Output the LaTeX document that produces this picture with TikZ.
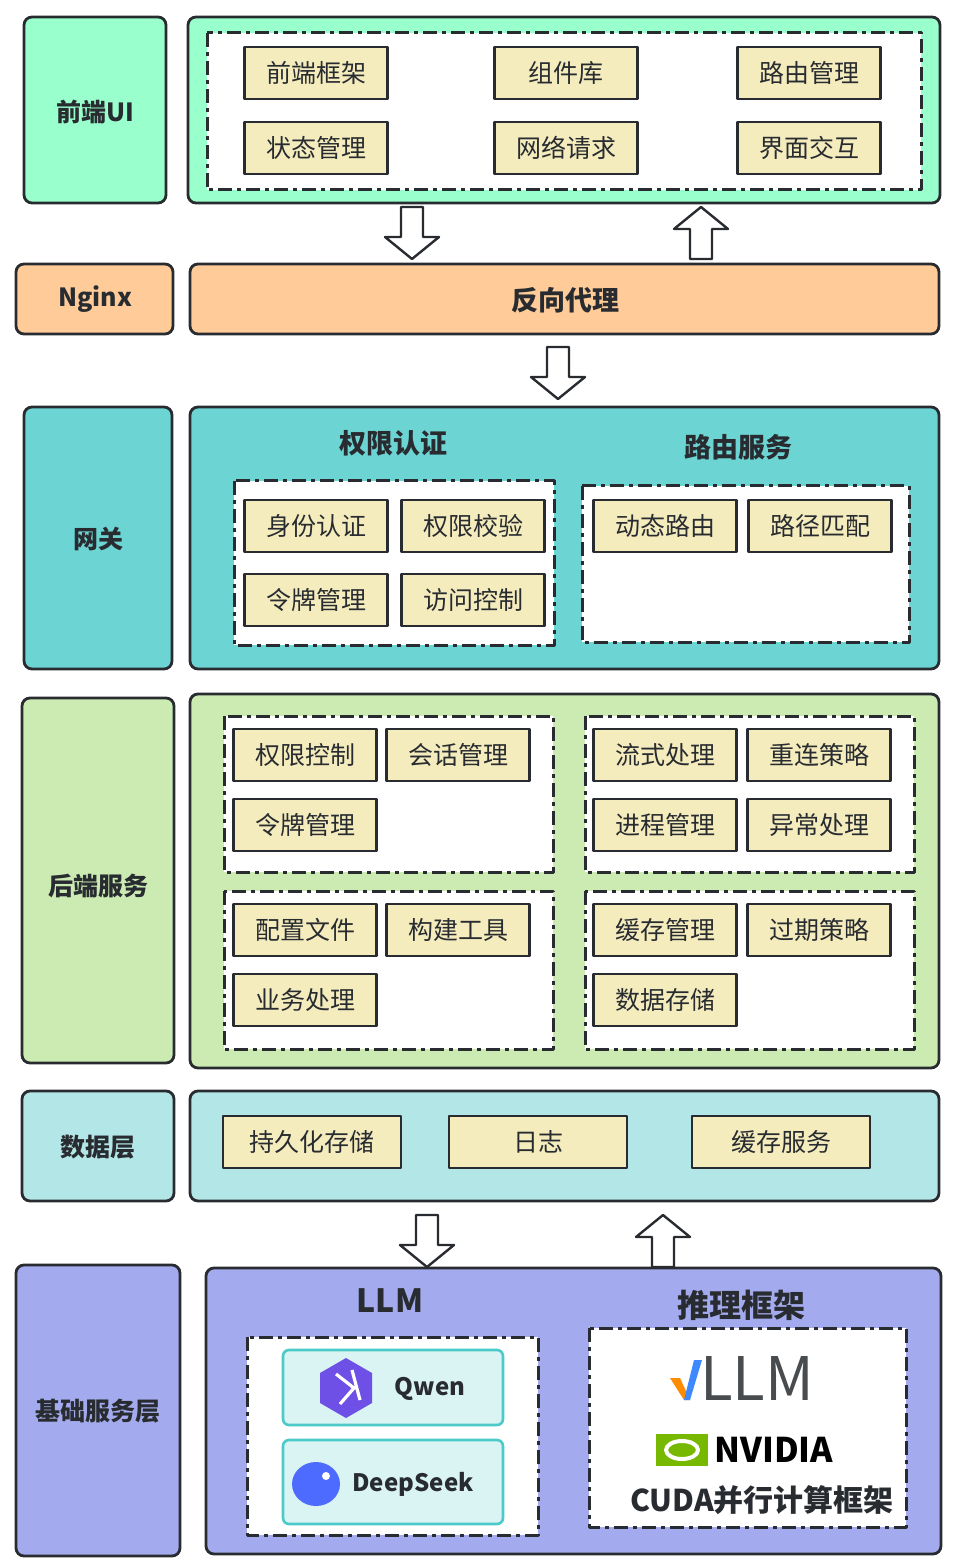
\documentclass[tikz,border=0pt]{standalone}
\usepackage{fontspec}
\setmainfont{Noto Sans CJK SC}
\usetikzlibrary{positioning}
\definecolor{ink}{RGB}{40,44,48}
\definecolor{mint}{RGB}{153,255,204}
\definecolor{peach}{RGB}{255,204,153}
\definecolor{teal}{RGB}{109,212,212}
\definecolor{leaf}{RGB}{204,235,179}
\definecolor{aqua}{RGB}{179,230,230}
\definecolor{lilac}{RGB}{163,171,238}
\definecolor{cream}{RGB}{245,236,190}
\definecolor{pale}{RGB}{218,243,243}
\definecolor{cyanline}{RGB}{76,201,201}
\definecolor{qpurple}{RGB}{110,80,230}
\definecolor{dsblue}{RGB}{77,107,254}
\definecolor{nvgreen}{RGB}{118,185,0}

\newcommand{\hollowarrow}[3]{% x, y (base end), angle
  \draw[hollow, shift={(#1,#2)}, rotate=#3]
    (-11,0) -- (-11,30) -- (-27,30) -- (0,52) -- (27,30) -- (11,30) -- (11,0) -- cycle;}

\begin{document}
\begin{tikzpicture}[
    x=0.5pt, y=-0.5pt,
    line join=round,
    layer/.style={draw=ink, line width=1.4pt, rounded corners=4pt},
    group/.style={draw=ink, fill=white, line width=1.5pt, dash pattern=on 7pt off 2.5pt on 2pt off 2.5pt},
    item/.style={draw=ink, fill=cream, line width=1.4pt, minimum width=71.5pt, minimum height=26pt,
                 inner sep=0pt, text=ink, font=\fontsize{12.5}{14}\selectfont},
    wide/.style={item, minimum width=89pt},
    tag/.style={text=ink, font=\fontsize{12.5}{14}\selectfont\bfseries},
    head/.style={text=ink, font=\fontsize{13.5}{16}\selectfont\bfseries},
    model/.style={draw=cyanline, fill=pale, line width=1.3pt, rounded corners=3pt},
    hollow/.style={draw=ink, fill=white, line width=1.2pt}
    ]
\useasboundingbox (0,0) rectangle (954,1566);

%% Frontend
\draw[layer, fill=mint] (24,17) rectangle (166,203);
\node[tag] (fe) at (95,112) {前端UI};
\draw[layer, fill=mint] (188,17) rectangle (940,203);
\draw[group] (207,33) rectangle (921,190);
\foreach \name/\x/\y/\t in {fw/316/73/前端框架, lib/566/73/组件库, rt/809/73/路由管理,
                           st/316/148/状态管理, net/566/148/网络请求, ui/809/148/界面交互}
  \node[item] (\name) at (\x,\y) {\t};

\hollowarrow{412}{207}{0}
\hollowarrow{701}{259}{180}

%% Nginx
\draw[layer, fill=peach] (16,264) rectangle (173,334);
\node[tag] (ngx) at (95,299) {Nginx};
\draw[layer, fill=peach] (190,264) rectangle (939,334);
\node[head] (proxy) at (565,300) {反向代理};

\hollowarrow{558}{347}{0}

%% Gateway
\draw[layer, fill=teal] (24,407) rectangle (172,669);
\node[tag] (gw) at (98,539) {网关};
\draw[layer, fill=teal] (190,407) rectangle (939,669);
\node[head] (auth) at (393,443) {权限认证};
\node[head] (route) at (738,447) {路由服务};
\draw[group] (234,481) rectangle (554,645);
\draw[group] (582,486) rectangle (909,642);
\foreach \name/\x/\y/\t in {id/316/526/身份认证, perm/473/526/权限校验,
                           tok/316/600/令牌管理, acc/473/600/访问控制,
                           dyn/665/526/动态路由, path/820/526/路径匹配}
  \node[item] (\name) at (\x,\y) {\t};

%% Backend
\draw[layer, fill=leaf] (22,698) rectangle (174,1063);
\node[tag] (be) at (98,886) {后端服务};
\draw[layer, fill=leaf] (190,694) rectangle (939,1068);
\draw[group] (224,716) rectangle (553,872);
\draw[group] (585,716) rectangle (914,872);
\draw[group] (224,891) rectangle (553,1049);
\draw[group] (585,891) rectangle (914,1049);
\foreach \name/\x/\y/\t in {pc/305/755/权限控制, ss/458/755/会话管理, tk/305/825/令牌管理,
                           sp/665/755/流式处理, rc/819/755/重连策略, pm/665/825/进程管理, ex/819/825/异常处理,
                           cf/305/930/配置文件, bt/458/930/构建工具, biz/305/1000/业务处理,
                           cm/665/930/缓存管理, exp/819/930/过期策略, ds/665/1000/数据存储}
  \node[item] (\name) at (\x,\y) {\t};

%% Data
\draw[layer, fill=aqua] (22,1091) rectangle (174,1201);
\node[tag] (data) at (98,1147) {数据层};
\draw[layer, fill=aqua] (190,1091) rectangle (939,1201);
\node[wide] (persist) at (312,1142) {持久化存储};
\node[wide] (log) at (538,1142) {日志};
\node[wide] (cache) at (781,1142) {缓存服务};

\hollowarrow{427}{1215}{0}
\hollowarrow{663}{1267}{180}

%% Base services
\draw[layer, fill=lilac] (16,1265) rectangle (180,1556);
\node[tag] (base) at (98,1411) {基础服务层};
\draw[layer, fill=lilac] (206,1268) rectangle (941,1554);
\node[head, font=\fontsize{16}{18}\selectfont\bfseries] (llm) at (390,1301) {LLM};
\node[head, font=\fontsize{16}{18}\selectfont\bfseries] (infer) at (741,1305) {推理框架};
\draw[group] (247,1337) rectangle (538,1535);
\draw[group] (589,1328) rectangle (906,1527);
\draw[model] (283,1350) rectangle (503,1425);
\draw[model] (283,1440) rectangle (503,1524);
% qwen mark
\fill[qpurple, shift={(346,1388)}] (0,-30) -- (26,-15) -- (26,15) -- (0,30) -- (-26,15) -- (-26,-15) -- cycle;
\draw[white, line width=1.6pt, shift={(346,1388)}] (-10,-14) -- (8,0) -- (-6,16) (6,-18) -- (14,12);
\node[text=ink, font=\fontsize{12}{14}\selectfont\bfseries] (qwen) at (430,1389) {Qwen};
% deepseek mark
\fill[dsblue] (316,1484) ellipse (24 and 22);
\fill[white] (326,1476) circle (4);
\node[text=ink, font=\fontsize{12}{14}\selectfont\bfseries] (deep) at (413,1484) {DeepSeek};
% vllm
\fill[orange!90!yellow] (670,1378) -- (680,1378) -- (690,1400) -- (684,1400) -- cycle;
\fill[dsblue!80!cyan] (690,1400) -- (684,1400) -- (694,1360) -- (702,1360) -- cycle;
\node[text=ink!85, font=\fontsize{30}{32}\selectfont, anchor=west, inner sep=0pt] (vllm) at (700,1378) {LLM};
% nvidia
\fill[nvgreen] (656,1434) rectangle (708,1466);
\draw[white, line width=2pt] (682,1450) ellipse (16 and 9);
\node[text=black, font=\fontsize{17}{19}\selectfont\bfseries, anchor=west, inner sep=0pt] (nv) at (714,1450) {NVIDIA};
\node[head, font=\fontsize{15}{17}\selectfont\bfseries] (cuda) at (762,1500) {CUDA并行计算框架};
\end{tikzpicture}
\end{document}
